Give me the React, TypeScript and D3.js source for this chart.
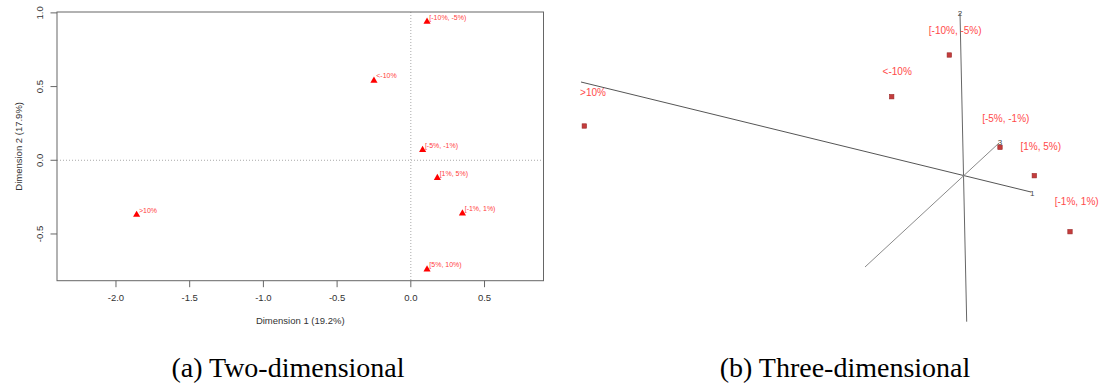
import React from "react";
import * as d3 from "d3";

// ---------- Panel (a): 2D MCA map ----------
const categories = ["<-10%", "[-10%, -5%)", "[-5%, -1%)", "[-1%, 1%)", "[1%, 5%)", "[5%, 10%)", ">10%"];
const dim1 = [-0.25, 0.11, 0.08, 0.35, 0.18, 0.11, -1.86];
const dim2 = [0.54, 0.94, 0.07, -0.36, -0.12, -0.74, -0.37];
const xTicks = [-2.0, -1.5, -1.0, -0.5, 0.0, 0.5];
const yTicks = [-0.5, 0.0, 0.5, 1.0];
const xTitle = "Dimension 1 (19.2%)";
const yTitle = "Dimension 2 (17.9%)";

// ---------- Panel (b): 3D view (projected coordinates) ----------
const categories3d = [">10%", "[-10%, -5%)", "<-10%", "[-5%, -1%)", "[1%, 5%)", "[-1%, 1%)"];
const projU = [-3.79, -0.14, -0.716, 0.367, 0.71, 1.067];
const projV = [0.49, 1.2, 0.783, 0.277, -0.007, -0.567];
const labelU = [-3.703, -0.081, -0.661, 0.425, 0.774, 1.134];
const labelV = [0.823, 1.443, 1.04, 0.567, 0.283, -0.267];
const axisNames = ["1", "2", "3"];
const axisNegU = [-3.823, 0.034, -0.983];
const axisNegV = [0.93, -1.467, -0.92];
const axisPosU = [0.677, -0.033, 0.357];
const axisPosV = [-0.17, 1.62, 0.32];
const axisLabelU = [0.69, -0.033, 0.367];
const axisLabelV = [-0.185, 1.62, 0.325];

const captions = ["(a) Two-dimensional", "(b) Three-dimensional"];

const SANS = "'Liberation Sans', Arial, Helvetica, sans-serif";
const SERIF = "'Liberation Serif', 'Times New Roman', Times, serif";

export default function App() {
  const W = 1101;
  const H = 387;
  const x = d3.scaleLinear().domain([-2.4, 0.9]).range([57, 543.5]);
  const y = d3.scaleLinear().domain([-0.817, 1.006]).range([280.7, 12]);
  const [x0, x1] = x.range();
  const [yb, yt] = y.range();
  const tri = d3.symbol().type(d3.symbolTriangle).size(22)();

  const u = d3.scaleLinear().domain([0, 1]).range([963.3, 1063.3]);
  const v = d3.scaleLinear().domain([0, 1]).range([175, 75]);
  const axisColors = ["#555", "#666", "#8a8a8a"];

  return (
    <svg
      width={W}
      height={H}
      style={{ position: "absolute", left: 0, top: 0, background: "#fff" }}
      fontFamily={SANS}
    >
      {/* Panel a */}
      <g>
        <line x1={x(0)} x2={x(0)} y1={yt} y2={yb} stroke="#aaa" strokeDasharray="1,2" />
        <line x1={x0} x2={x1} y1={y(0)} y2={y(0)} stroke="#aaa" strokeDasharray="1,2" />
        <rect x={x0} y={yt} width={x1 - x0} height={yb - yt} fill="none" stroke="#666" strokeWidth={1} />
        {xTicks.map((t) => (
          <g key={"xt" + t}>
            <line x1={x(t)} x2={x(t)} y1={yb} y2={yb + 6.5} stroke="#666" />
            <text x={x(t)} y={298} dy="0.35em" textAnchor="middle" fontSize={9.5} fill="#333">
              {t.toFixed(1)}
            </text>
          </g>
        ))}
        {yTicks.map((t) => (
          <g key={"yt" + t}>
            <line x1={x0 - 6.5} x2={x0} y1={y(t)} y2={y(t)} stroke="#666" />
            <text
              transform={`translate(40,${y(t)}) rotate(-90)`}
              dy="0.35em"
              textAnchor="middle"
              fontSize={9.5}
              fill="#333"
            >
              {t.toFixed(1)}
            </text>
          </g>
        ))}
        <text x={(x0 + x1) / 2} y={321} dy="0.35em" textAnchor="middle" fontSize={9.5} fill="#333">
          {xTitle}
        </text>
        <text
          transform={`translate(18.3,${(yt + yb) / 2}) rotate(-90)`}
          dy="0.35em"
          textAnchor="middle"
          fontSize={9.5}
          fill="#333"
        >
          {yTitle}
        </text>
        {categories.map((c, i) => (
          <g key={"p" + i}>
            <path d={tri} transform={`translate(${x(dim1[i])},${y(dim2[i])})`} fill="#ff0000" />
            <text x={x(dim1[i]) + 2.3} y={y(dim2[i]) - 2.2} fontSize={7} fill="#ff4040">
              {c}
            </text>
          </g>
        ))}
      </g>

      {/* Panel b */}
      <g>
        {axisNames.map((a, i) => (
          <g key={"ax" + i}>
            <line
              x1={u(axisNegU[i])}
              y1={v(axisNegV[i])}
              x2={u(axisPosU[i])}
              y2={v(axisPosV[i])}
              stroke={axisColors[i]}
              strokeWidth={1}
            />
            <text
              x={u(axisLabelU[i])}
              y={v(axisLabelV[i])}
              dy="0.35em"
              textAnchor="middle"
              fontSize={8}
              fill="#444"
            >
              {a}
            </text>
          </g>
        ))}
        {categories3d.map((c, i) => (
          <g key={"q" + i}>
            <rect
              x={u(projU[i]) - 2.2}
              y={v(projV[i]) - 2.2}
              width={4.4}
              height={4.4}
              fill="#c43c3c"
              stroke="#9a2626"
              strokeWidth={0.6}
            />
            <text
              x={u(labelU[i])}
              y={v(labelV[i])}
              dy="0.35em"
              textAnchor="middle"
              fontSize={10}
              fill="#ff4a4a"
            >
              {c}
            </text>
          </g>
        ))}
      </g>

      {/* Captions */}
      <text x={288} y={376.5} textAnchor="middle" fontFamily={SERIF} fontSize={28} fill="#000">
        {captions[0]}
      </text>
      <text x={845} y={376.5} textAnchor="middle" fontFamily={SERIF} fontSize={28} fill="#000">
        {captions[1]}
      </text>
    </svg>
  );
}
